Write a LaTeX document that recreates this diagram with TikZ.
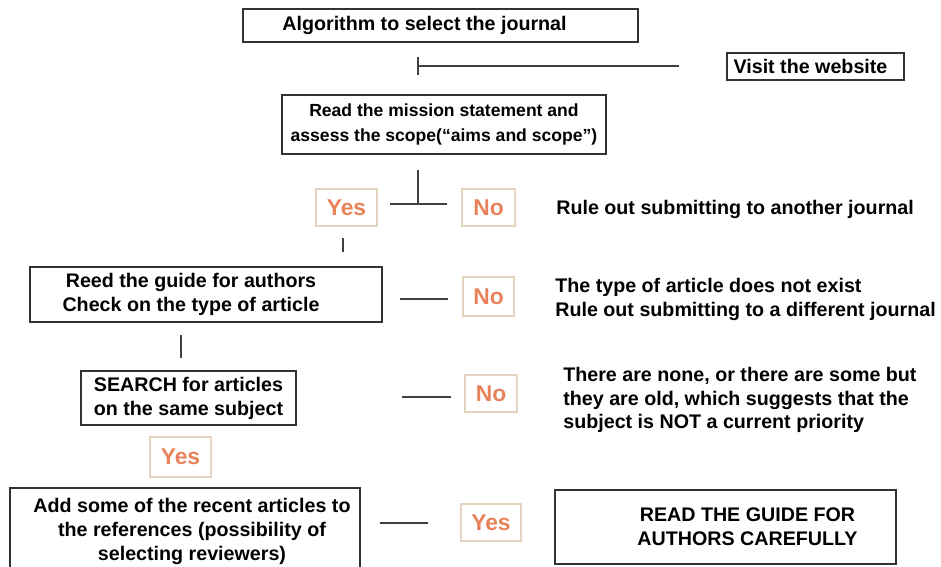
\documentclass[tikz,border=0pt]{standalone}
\usepackage{fontspec}
\setmainfont{Liberation Sans}
\definecolor{ansorange}{HTML}{E8825A}
\definecolor{anstan}{HTML}{E3D3BF}

\begin{document}
\begin{tikzpicture}[x=0.02cm,y=-0.02cm,
  every node/.style={font=\bfseries\fontsize{11.2}{13.6}\selectfont,inner sep=0pt},
  stepbox/.style={draw=black!80,line width=0.8pt,align=center},
  answer/.style={draw=anstan,line width=0.7pt,text=ansorange,font=\bfseries\fontsize{13}{15}\selectfont},
  note/.style={anchor=west,align=left},
  link/.style={black!75,line width=0.8pt}]
  \useasboundingbox (0,0) rectangle (941,566);
  % boxes
  \node[stepbox,minimum width=7.9cm,minimum height=0.66cm,
    label={[xshift=-0.32cm]center:Algorithm to select the journal}] (title) at (440.5,25.5) {};
  \node[stepbox,minimum width=3.54cm,minimum height=0.54cm,
    label={[xshift=-0.1cm]center:Visit the website}] (web) at (815.5,66.5) {};
  \node[stepbox,minimum width=6.48cm,minimum height=1.18cm,font=\bfseries\fontsize{10}{14}\selectfont] (mission) at (444,124.5) {Read the mission statement and\\assess the scope(``aims and scope'')};
  \node[stepbox,minimum width=7.04cm,minimum height=1.1cm,
    label={[align=center,xshift=-0.3cm]center:Reed the guide for authors\\Check on the type of article}] (reed) at (206,294.5) {};
  \node[stepbox,minimum width=4.3cm,minimum height=1.08cm] (search) at (188.5,398) {SEARCH for articles\\on the same subject};
  \node[stepbox,minimum width=7cm,minimum height=1.66cm,
    label={[align=center,xshift=0.14cm,yshift=-0.04cm]center:Add some of the recent articles to\\the references (possibility of\\selecting reviewers)}] (add) at (185,529.5) {};
  \node[stepbox,minimum width=6.82cm,minimum height=1.48cm,
    label={[align=center,xshift=0.44cm]center:READ THE GUIDE FOR\\AUTHORS CAREFULLY}] (guide) at (725.5,527) {};
  % answers
  \node[answer,minimum width=1.22cm,minimum height=0.74cm] (yes1) at (346.5,207.5) {Yes};
  \node[answer,minimum width=1.06cm,minimum height=0.74cm] (no1) at (488.5,207.5) {No};
  \node[answer,minimum width=1.02cm,minimum height=0.78cm] (no2) at (488.5,296.5) {No};
  \node[answer,minimum width=1.04cm,minimum height=0.74cm] (no3) at (491,393.5) {No};
  \node[answer,minimum width=1.22cm,minimum height=0.8cm] (yes2) at (180.5,457) {Yes};
  \node[answer,minimum width=1.2cm,minimum height=0.74cm] (yes3) at (491,522.5) {Yes};
  % notes
  \node[note] (rule1) at (556,209) {Rule out submitting to another journal};
  \node[note] (rule2) at (555,299) {The type of article does not exist\\Rule out submitting to a different journal};
  \node[note] (rule3) at (563,400) {There are none, or there are some but\\they are old, which suggests that the\\subject is NOT a current priority};
  % links
  \path (418,57) coordinate (t0) (418,75) coordinate (t1) (418,66) coordinate (t2) (679,66) coordinate (t3)
  (418,170) coordinate (m0) (418,204) coordinate (m1) (390,204) coordinate (m2) (447,204) coordinate (m3)
  (343,238) coordinate (y0) (343,252) coordinate (y1)
  (400,299) coordinate (r0) (448,299) coordinate (r1)
  (181,335) coordinate (s0) (181,358) coordinate (s1)
  (402,397) coordinate (n0) (451,397) coordinate (n1)
  (380,523) coordinate (a0) (428,523) coordinate (a1);
  \draw[link] (t0) -- (t1) (t2) -- (t3);
  \draw[link] (m0) -- (m1) (m2) -- (m3);
  \draw[link] (y0) -- (y1);
  \draw[link] (r0) -- (r1);
  \draw[link] (s0) -- (s1);
  \draw[link] (n0) -- (n1);
  \draw[link] (a0) -- (a1);
\end{tikzpicture}
\end{document}
